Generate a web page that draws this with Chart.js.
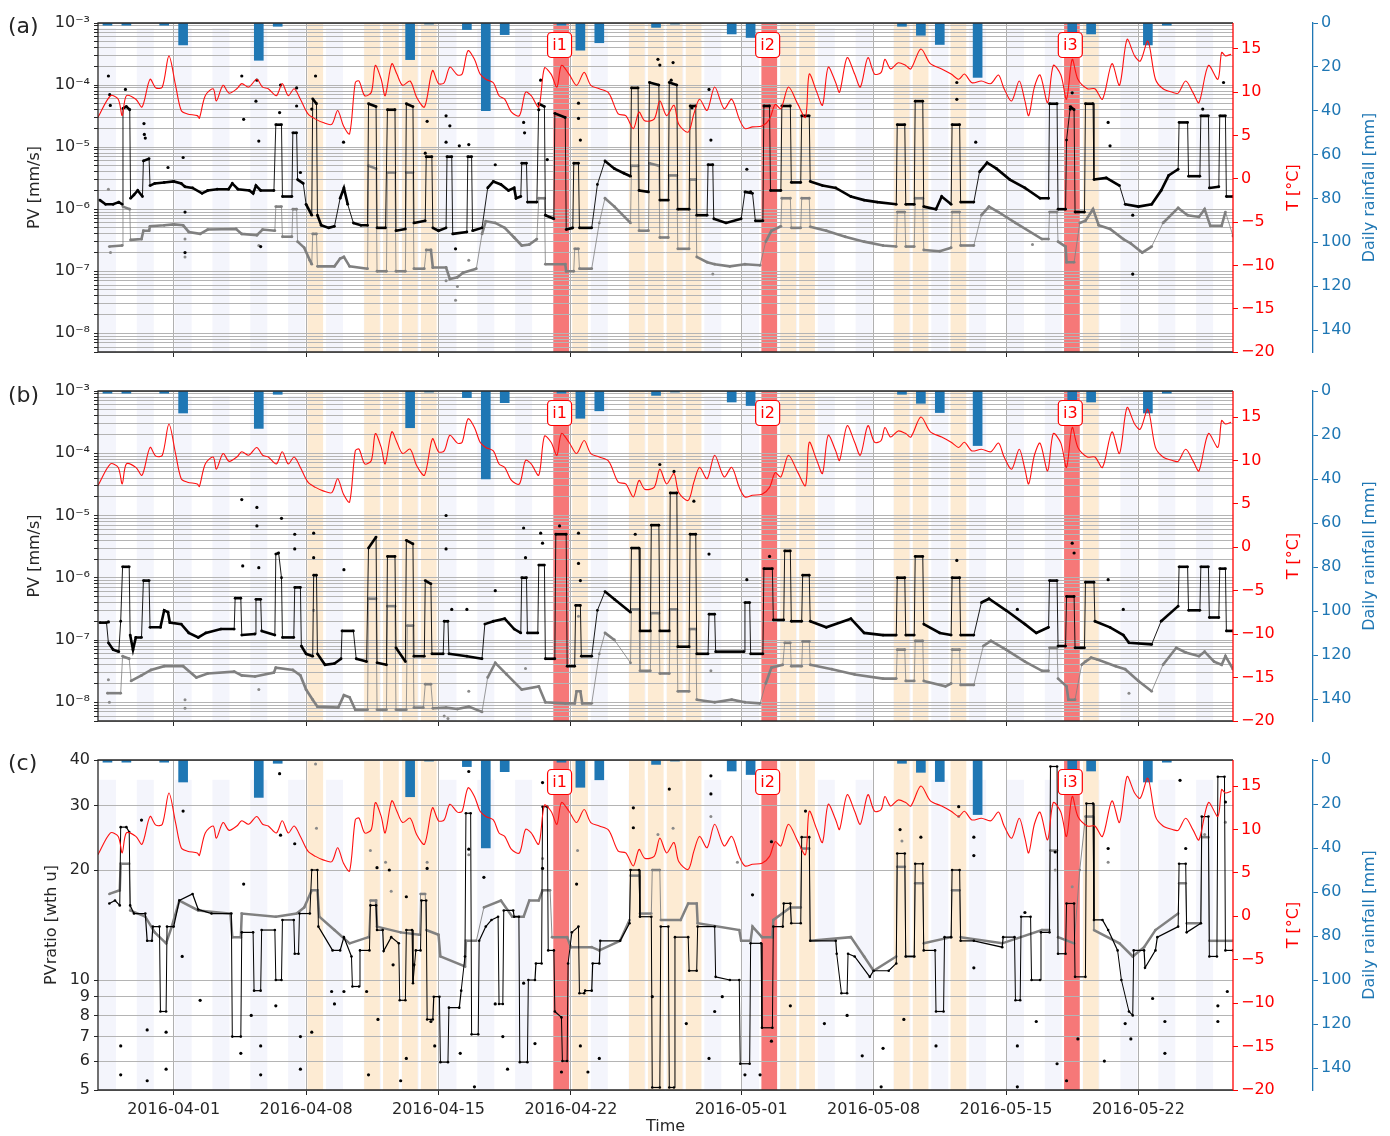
<!DOCTYPE html>
<html>
<head>
<meta charset="utf-8">
<script src="https://cdn.jsdelivr.net/npm/chart.js@4.4.1/dist/chart.umd.min.js"></script>
<style>
  body { margin: 0; background: #fff; width: 1390px; height: 1136px; overflow: hidden; position: relative; }
  canvas { position: absolute; left: 0; }
</style>
</head>
<body>
<canvas id="pa" width="1390" height="370" style="top:0px"></canvas>
<canvas id="pb" width="1390" height="370" style="top:370px"></canvas>
<canvas id="pc" width="1390" height="396" style="top:740px"></canvas>
<script>
// days counted from 2016-03-28 00:00
const tickDays = [4, 11, 18, 25, 34, 41, 48, 55];
const tickLabels = ['2016-04-01', '2016-04-08', '2016-04-15', '2016-04-22', '2016-05-01', '2016-05-08', '2016-05-15', '2016-05-22'];

const rainDays = [0, 1, 3, 4, 8, 9, 16, 17, 19, 20, 21, 24, 25, 26, 29, 30, 33, 34, 42, 43, 44, 46, 51, 52, 55, 56];
const rainMm = [1, 1, 1, 10, 17, 1.5, 16.7, 0.5, 3, 40, 5.3, 1, 12.4, 9, 2, 0.5, 5, 6.6, 1.5, 5.6, 9.8, 24.8, 4, 5, 10, 1];

const stripeDays = [0, 2, 4, 6, 8, 10, 12, 14, 16, 18, 20, 22, 24, 26, 28, 30, 32, 34, 36, 38, 40, 42, 44, 46, 48, 50, 52, 54, 56, 58];
const heatDays = [11, 14, 15, 16, 17, 25, 28, 29, 30, 31, 36, 37, 42, 43, 45, 52];
const eventDays = [24, 35, 51];
const eventLabels = ['i1', 'i2', 'i3'];

const tempTicks = [-20, -15, -10, -5, 0, 5, 10, 15];
const rainTicks = [0, 20, 40, 60, 80, 100, 120, 140];
const yTicksC = [5, 6, 7, 8, 9, 10, 20, 30, 40];
const decadesAB = [-9, -8, -7, -6, -5, -4, -3];
const mantissas = [1, 2, 3, 4, 5, 6, 7, 8, 9];

// air temperature [°C]
const temperature = [[0,7.1],[0.66,9.6],[1.07,9.2],[1.28,7.3],[1.5,9.6],[2.0,9.2],[2.33,8.3],[2.75,11.5],[3.06,10.5],[3.4,10.6],[3.75,14.2],[4.1,10.8],[4.4,7.9],[4.73,7.5],[5.25,7.3],[5.36,7.0],[5.67,9.6],[6.09,10.4],[6.26,9.0],[6.61,10.8],[6.93,9.9],[7.34,10.4],[7.6,11.0],[7.97,10.6],[8.39,11.5],[8.7,10.6],[9.0,10.4],[9.43,9.6],[9.74,11.0],[10.06,9.6],[10.37,10.4],[10.7,9.2],[11.1,7.5],[11.5,6.9],[11.9,6.5],[12.36,6.3],[12.67,7.9],[12.98,6.1],[13.3,5.2],[13.6,11.1],[13.8,11.3],[14.1,9.6],[14.45,10.0],[14.66,13.1],[14.97,11.5],[15.18,9.6],[15.53,13.3],[15.8,12.1],[16.1,10.8],[16.5,11.3],[16.85,9.4],[17.26,8.3],[17.68,12.5],[18.0,11.0],[18.3,11.1],[18.6,12.9],[19.0,12.0],[19.25,12.1],[19.56,14.8],[19.9,13.8],[20.2,12.1],[20.5,11.5],[20.9,11.1],[21.2,9.6],[21.5,9.2],[21.86,7.7],[22.28,7.3],[22.6,10.0],[22.9,9.6],[23.3,8.3],[23.6,12.8],[23.95,12.1],[24.26,10.6],[24.5,13.1],[24.9,12.1],[25.3,10.8],[25.7,12.3],[26.05,10.8],[26.5,10.4],[27.0,9.9],[27.5,7.5],[27.9,7.3],[28.3,5.8],[28.6,7.7],[28.9,6.7],[29.4,6.9],[29.7,9.0],[30.06,7.3],[30.45,8.5],[30.7,6.3],[31.2,5.4],[31.5,7.5],[31.8,9.2],[32.2,7.9],[32.6,10.6],[33.1,8.1],[33.5,9.2],[33.9,6.9],[34.2,5.8],[34.6,6.0],[35.1,6.1],[35.5,6.9],[35.8,8.6],[36.1,8.1],[36.5,10.6],[37.0,8.6],[37.4,7.1],[37.6,12.1],[38.0,10.0],[38.3,8.5],[38.6,12.9],[39.0,11.1],[39.2,10.0],[39.6,14.0],[40.0,12.1],[40.3,10.6],[40.7,14.0],[41.05,12.1],[41.4,12.3],[41.6,13.8],[41.9,12.7],[42.3,13.4],[42.7,13.1],[42.97,12.7],[43.5,15.0],[44.0,13.3],[44.6,12.7],[45.1,12.1],[45.5,11.5],[45.8,12.1],[46.2,11.1],[46.7,11.3],[47.2,11.0],[47.6,12.0],[47.9,10.4],[48.3,9.0],[48.7,11.3],[49.0,9.0],[49.2,7.3],[49.5,10.6],[49.8,12.0],[50.2,8.8],[50.5,13.1],[50.9,12.0],[51.2,9.2],[51.5,13.8],[51.8,11.5],[52.3,10.4],[52.7,10.4],[53.1,9.2],[53.6,13.3],[54.0,10.8],[54.4,16.1],[54.8,14.2],[55.1,13.6],[55.5,15.9],[55.9,11.5],[56.3,10.4],[56.8,10.0],[57.1,9.9],[57.5,11.3],[57.9,9.9],[58.2,8.8],[58.7,13.1],[59.2,11.5],[59.4,14.6],[59.6,14.2],[59.9,14.4]];

// panel (a) PV [mm/s]
const pvA_black = [[0.1,1.4e-6],[0.4,1.2e-6],[0.8,1.2e-6],[1.1,1.3e-6],[1.28,1.2e-6],[1.32,4.2e-5],[1.5,4.5e-5],[1.68,4e-5],[1.72,1.5e-6],[1.9,1.7e-6],[2.1,2e-6],[2.35,1.6e-6],[2.4,6e-6],[2.7,6.5e-6],[2.75,2.4e-6],[3.0,2.6e-6],[3.5,2.7e-6],[4.0,2.8e-6],[4.4,2.6e-6],[4.6,2.3e-6],[5.0,2.2e-6],[5.5,1.8e-6],[5.8,2e-6],[6.3,2.1e-6],[6.9,2.1e-6],[7.1,2.6e-6],[7.4,2.1e-6],[8.0,2e-6],[8.2,1.8e-6],[8.35,2.4e-6],[8.6,2e-6],[9.3,2e-6],[9.4,2.3e-5],[9.7,2.3e-5],[9.75,1.6e-6],[10.25,1.6e-6],[10.3,1.7e-5],[10.5,1.7e-5],[10.55,3e-6],[10.85,2.6e-6],[11.0,1.2e-6],[11.3,8e-7],[11.35,6e-5],[11.55,5e-5],[11.6,8e-7],[11.8,5.5e-7],[12.2,5e-7],[12.5,5.3e-7],[12.8,1.5e-6],[13.0,2.2e-6],[13.2,1.2e-6],[13.5,6e-7],[13.9,5.5e-7],[14.25,5.5e-7],[14.3,5e-5],[14.7,4.5e-5],[14.75,5e-7],[15.2,5e-7],[15.3,4e-5],[15.7,4e-5],[15.75,4.5e-7],[16.25,4.8e-7],[16.3,5e-5],[16.65,4.5e-5],[16.7,6e-7],[17.3,6.5e-7],[17.35,7e-6],[17.65,7e-6],[17.7,5e-7],[18.0,4.5e-7],[18.4,5e-7],[18.45,7e-6],[18.7,7e-6],[18.75,4e-7],[19.5,4.3e-7],[19.55,7e-6],[19.75,7e-6],[19.8,4.5e-7],[20.3,5e-7],[20.6,2.2e-6],[20.9,2.8e-6],[21.3,2.5e-6],[21.7,2e-6],[22.0,2.2e-6],[22.1,1.5e-6],[22.35,1.6e-6],[22.4,5.5e-6],[22.65,5.5e-6],[22.7,1.3e-6],[23.2,1.3e-6],[23.3,5e-5],[23.6,4.5e-5],[23.65,8e-7],[24.1,7e-7],[24.15,3.5e-5],[24.7,3e-5],[24.75,4.7e-7],[25.1,5e-7],[25.15,5.5e-6],[25.4,5.5e-6],[25.45,5e-7],[26.1,5e-7],[26.4,2.5e-6],[26.8,6e-6],[27.3,4.5e-6],[27.8,3.8e-6],[28.15,3.4e-6],[28.2,9e-5],[28.55,9e-5],[28.6,2e-6],[29.1,1.9e-6],[29.15,1.1e-4],[29.65,1e-4],[29.7,1.4e-6],[30.15,1.4e-6],[30.2,1.1e-4],[30.6,1e-4],[30.65,1e-6],[31.25,1e-6],[31.3,4.6e-5],[31.6,4.6e-5],[31.65,8e-7],[32.2,8e-7],[32.25,5.2e-6],[32.5,5.2e-6],[32.55,7e-7],[33.2,6e-7],[34.0,7e-7],[34.2,1.9e-6],[34.6,1.8e-6],[34.75,6.5e-7],[35.15,6.5e-7],[35.2,4.6e-5],[35.5,4.6e-5],[35.55,2e-6],[36.1,2e-6],[36.15,4.6e-5],[36.6,4.6e-5],[36.65,2.7e-6],[37.15,2.7e-6],[37.2,3.2e-5],[37.6,3.2e-5],[37.65,2.8e-6],[38.3,2.4e-6],[39.0,2.2e-6],[39.8,1.6e-6],[40.5,1.4e-6],[41.2,1.3e-6],[42.2,1.2e-6],[42.25,2.3e-5],[42.65,2.3e-5],[42.7,1.2e-6],[43.15,1.2e-6],[43.2,5.5e-5],[43.6,5.5e-5],[43.65,1.1e-6],[44.3,1e-6],[44.6,1.6e-6],[45.1,1.2e-6],[45.15,2.3e-5],[45.55,2.3e-5],[45.6,1.3e-6],[46.3,1.3e-6],[46.6,4e-6],[47.0,5.6e-6],[47.5,4.5e-6],[48.2,3e-6],[49.0,2.2e-6],[49.8,1.5e-6],[50.25,1.5e-6],[50.3,5e-5],[50.7,5e-5],[50.75,1e-6],[51.15,1e-6],[51.2,1.3e-5],[51.4,4.5e-5],[51.6,4e-5],[51.65,9e-7],[52.15,9e-7],[52.2,5e-5],[52.6,5e-5],[52.65,3e-6],[53.3,3.2e-6],[54.0,2.4e-6],[54.3,1.2e-6],[55.0,1.1e-6],[55.7,1.2e-6],[56.2,2e-6],[56.6,3.5e-6],[57.1,4.4e-6],[57.15,2.5e-5],[57.6,2.5e-5],[57.65,3.4e-6],[58.25,3.4e-6],[58.3,3.2e-5],[58.7,3.2e-5],[58.75,2.2e-6],[59.25,2.3e-6],[59.3,3.2e-5],[59.6,3.2e-5],[59.65,1.6e-6],[60,1.6e-6]];
const pvA_gray = [[0.6,2.5e-7],[1.28,2.6e-7],[1.32,1.1e-6],[1.68,1.0e-6],[1.72,3.2e-7],[2.3,3.3e-7],[2.4,4.5e-7],[2.7,4.5e-7],[2.75,5.3e-7],[3.5,5.5e-7],[4.0,5.7e-7],[4.5,5.5e-7],[4.8,4.3e-7],[5.4,4e-7],[5.8,4.7e-7],[7.3,4.8e-7],[7.6,4e-7],[8.4,3.8e-7],[8.7,4.7e-7],[9.35,4.5e-7],[9.4,1.1e-6],[9.7,1.1e-6],[9.75,3.6e-7],[10.25,3.6e-7],[10.3,1.0e-6],[10.5,1.0e-6],[10.55,3e-7],[10.9,2.4e-7],[11.2,1.5e-7],[11.3,1.3e-7],[11.35,4e-7],[11.55,4e-7],[11.6,1.2e-7],[12.5,1.2e-7],[12.8,1.6e-7],[13.0,1.7e-7],[13.3,1.2e-7],[14.25,1.1e-7],[14.3,5e-6],[14.7,4.5e-6],[14.75,1.0e-7],[15.25,1.0e-7],[15.3,3.9e-6],[15.7,3.9e-6],[15.75,1.0e-7],[16.25,1.0e-7],[16.3,3.9e-6],[16.65,3.9e-6],[16.7,1.1e-7],[17.25,1.1e-7],[17.35,2.2e-7],[17.6,2.2e-7],[17.7,1.15e-7],[18.4,1.15e-7],[18.6,7.5e-8],[19.0,8e-8],[19.3,9.5e-8],[20.0,1.1e-7],[20.3,4e-7],[20.5,6.4e-7],[21.0,6e-7],[21.5,5e-7],[22.0,3.5e-7],[22.4,2.6e-7],[22.8,2.7e-7],[23.2,3.3e-7],[23.3,1.5e-6],[23.6,1.5e-6],[23.65,1.3e-7],[24.7,1.3e-7],[24.75,1.0e-7],[25.15,1.0e-7],[25.2,2.3e-7],[25.4,2.3e-7],[25.45,1.1e-7],[26.1,1.1e-7],[26.5,6e-7],[26.8,1.5e-6],[27.3,1.1e-6],[28.15,6e-7],[28.2,5e-6],[28.55,5e-6],[28.6,4.5e-7],[29.1,4.5e-7],[29.15,5.5e-6],[29.65,5e-6],[29.7,3.5e-7],[30.15,3.5e-7],[30.2,3.5e-6],[30.6,3.5e-6],[30.65,2.3e-7],[31.25,2.3e-7],[31.3,3e-6],[31.6,3e-6],[31.65,1.7e-7],[32.2,1.4e-7],[32.6,1.3e-7],[33.4,1.2e-7],[34.2,1.3e-7],[35.0,1.25e-7],[35.3,3e-7],[35.6,4.5e-7],[36.1,5.3e-7],[36.15,1.5e-6],[36.6,1.5e-6],[36.65,5e-7],[37.15,5e-7],[37.2,1.5e-6],[37.6,1.5e-6],[37.65,5.2e-7],[38.5,4.5e-7],[39.5,3.6e-7],[40.5,3e-7],[41.5,2.6e-7],[42.2,2.5e-7],[42.25,9e-7],[42.65,9e-7],[42.7,2.5e-7],[43.15,2.5e-7],[43.2,1.5e-6],[43.6,1.5e-6],[43.65,2.2e-7],[44.5,2.1e-7],[45.1,2.4e-7],[45.15,9e-7],[45.55,9e-7],[45.6,2.6e-7],[46.3,2.6e-7],[46.7,8e-7],[47.1,1.1e-6],[47.6,9e-7],[48.5,6e-7],[49.9,3.3e-7],[50.25,3.3e-7],[50.3,9e-7],[50.7,9e-7],[50.75,3e-7],[51.15,2.5e-7],[51.2,1.4e-7],[51.6,1.4e-7],[51.9,6e-7],[52.2,6.5e-7],[52.6,1e-6],[52.9,5.5e-7],[53.5,4.8e-7],[54.2,3.3e-7],[54.6,2.8e-7],[55.2,2e-7],[55.7,2.5e-7],[56.3,6e-7],[57.1,1.05e-6],[57.6,8e-7],[58.2,7.5e-7],[58.5,1e-6],[58.8,5.4e-7],[59.4,5.4e-7],[59.6,9e-7],[60,3.7e-7]];
const outA_black = [[0.55,1.4e-4],[0.62,7e-5],[0.65,4.7e-5],[1.45,8.5e-5],[2.43,2.4e-5],[2.45,1.6e-5],[2.5,1.4e-5],[3.7,4.7e-6],[4.5,6.8e-6],[4.6,9e-7],[4.6,2e-7],[7.6,1.4e-4],[7.7,2.8e-5],[8.35,5.5e-5],[8.4,1.2e-4],[8.5,1.25e-5],[8.6,2.5e-7],[9.6,3.6e-5],[9.65,1e-4],[10.5,9e-5],[10.5,4.6e-5],[10.7,3.9e-6],[11.3,4.1e-5],[11.5,1.4e-4],[12.98,1.2e-5],[17.3,8e-6],[17.4,2.6e-5],[18.4,3.2e-5],[18.4,1.2e-5],[18.6,2.2e-5],[18.9,2.3e-7],[19.1,1.05e-5],[19.6,1.1e-5],[21.0,5.2e-6],[22.5,2.5e-5],[22.55,1.7e-5],[23.3,4e-5],[23.4,1.2e-4],[23.75,6.3e-6],[25.4,5.1e-5],[25.4,2.9e-5],[25.5,1.3e-5],[29.6,2.6e-4],[29.7,2.1e-4],[30.3,1.2e-4],[30.4,2.3e-4],[31.4,4.3e-5],[32.3,8.5e-5],[32.4,1.3e-5],[34.3,4.4e-6],[34.5,1.9e-6],[45.4,1.1e-4],[45.4,5.9e-5],[46.4,1.2e-5],[51.4,4.1e-5],[51.5,7.5e-5],[53.4,2.5e-5],[53.5,1.05e-5],[54.7,8e-7],[54.7,9e-8],[58.4,4.1e-5],[59.5,1.1e-4]];
const outA_gray = [[0.55,2.1e-6],[0.66,2e-7],[4.6,3.3e-7],[4.6,1.7e-7],[8.5,2.6e-7],[18.4,7e-8],[18.9,3.4e-8],[19.0,5.7e-8],[19.6,1.5e-7],[32.5,9e-8],[49.4,2.7e-7],[54.7,9e-8]];

// panel (b) PV [mm/s]
const pvB_black = [[0.1,1.9e-7],[0.45,1.9e-7],[0.55,9e-8],[0.8,7e-8],[1.1,6.5e-8],[1.2,2e-7],[1.3,1.5e-6],[1.65,1.5e-6],[1.7,1.2e-7],[1.85,7e-8],[2.0,1.1e-7],[2.3,1.1e-7],[2.4,9e-7],[2.7,9e-7],[2.75,1.6e-7],[3.3,1.6e-7],[3.5,3e-7],[3.7,2.8e-7],[3.8,1.9e-7],[4.4,1.8e-7],[4.8,1.3e-7],[5.3,1.1e-7],[5.7,1.3e-7],[6.5,1.5e-7],[7.2,1.5e-7],[7.25,4.7e-7],[7.55,4.7e-7],[7.6,1.2e-7],[8.3,1.25e-7],[8.35,4.5e-7],[8.6,4.5e-7],[8.65,1.4e-7],[9.35,1.2e-7],[9.4,2.4e-6],[9.55,2.5e-6],[9.7,1e-6],[9.75,1.1e-7],[10.35,1.1e-7],[10.4,7e-7],[10.7,7e-7],[10.75,8e-8],[11.0,6e-8],[11.35,5.5e-8],[11.4,1.1e-6],[11.55,1.1e-6],[11.6,6e-8],[12.0,4e-8],[12.5,4.2e-8],[12.85,5e-8],[12.9,1.4e-7],[13.5,1.4e-7],[13.65,5e-8],[14.2,4.5e-8],[14.3,3e-6],[14.7,4.5e-6],[14.75,4.3e-8],[15.25,4e-8],[15.3,2.2e-6],[15.7,2.2e-6],[15.75,7.5e-8],[16.25,4.5e-8],[16.3,4e-6],[16.65,3.5e-6],[16.7,5.5e-8],[17.25,5.5e-8],[17.3,9e-7],[17.6,8e-7],[17.65,6e-8],[18.25,6e-8],[18.3,2e-7],[18.5,2e-7],[18.55,6e-8],[19.5,5.5e-8],[20.3,5e-8],[20.45,1.8e-7],[20.9,2e-7],[21.5,2.2e-7],[22.0,1.5e-7],[22.35,1.3e-7],[22.4,1e-6],[22.65,1e-6],[22.7,1.3e-7],[23.25,1.3e-7],[23.3,1.6e-6],[23.6,1.6e-6],[23.65,5e-8],[24.15,5e-8],[24.2,5e-6],[24.75,5e-6],[24.8,3.8e-8],[25.2,3.8e-8],[25.25,3.6e-7],[25.5,3.6e-7],[25.55,5.5e-8],[26.1,5.5e-8],[26.4,3e-7],[26.8,6e-7],[27.3,4.5e-7],[28.15,2.8e-7],[28.2,3e-6],[28.6,3e-6],[28.65,1.4e-7],[29.2,1.4e-7],[29.25,7e-6],[29.65,7e-6],[29.7,1.4e-7],[30.2,1.4e-7],[30.25,2.3e-5],[30.6,2.3e-5],[30.65,7.8e-8],[31.25,7.8e-8],[31.3,5e-6],[31.6,5e-6],[31.65,6e-8],[32.25,6e-8],[32.3,2.6e-7],[32.6,2.6e-7],[32.65,6.5e-8],[34.15,6.5e-8],[34.2,4e-7],[34.45,4e-7],[34.5,6e-8],[35.15,6e-8],[35.2,1.4e-6],[35.65,1.4e-6],[35.7,2.1e-7],[36.25,2.1e-7],[36.3,2.7e-6],[36.6,2.7e-6],[36.65,2e-7],[37.2,2e-7],[37.25,1.1e-6],[37.6,1.1e-6],[37.65,2e-7],[38.5,1.6e-7],[39.8,2.2e-7],[40.5,1.3e-7],[41.5,1.2e-7],[42.2,1.2e-7],[42.25,1e-6],[42.65,1e-6],[42.7,1.2e-7],[43.15,1.2e-7],[43.2,2.2e-6],[43.6,2.2e-6],[43.65,1.8e-7],[44.5,1.3e-7],[45.1,1.2e-7],[45.15,1e-6],[45.55,1e-6],[45.6,1.2e-7],[46.3,1.2e-7],[46.7,4e-7],[47.1,4.6e-7],[48.0,3e-7],[49.0,1.8e-7],[49.6,1.3e-7],[50.25,1.6e-7],[50.3,9e-7],[50.7,9e-7],[50.75,8e-8],[51.15,8e-8],[51.2,5e-7],[51.6,5e-7],[51.65,7.5e-8],[52.15,7.5e-8],[52.2,8.5e-7],[52.65,8.5e-7],[52.7,2e-7],[53.5,1.6e-7],[54.2,1.2e-7],[54.5,9e-8],[55.7,8.5e-8],[56.2,2e-7],[57.1,3.5e-7],[57.15,1.5e-6],[57.6,1.5e-6],[57.65,3e-7],[58.25,3e-7],[58.3,1.5e-6],[58.7,1.5e-6],[58.75,2.3e-7],[59.25,2.3e-7],[59.3,1.4e-6],[59.6,1.4e-6],[59.65,1.4e-7],[60,1.4e-7]];
const pvB_gray = [[0.5,1.4e-8],[1.2,1.4e-8],[1.3,5.5e-8],[1.65,5e-8],[1.75,2.2e-8],[2.3,2.7e-8],[2.8,3.3e-8],[3.5,3.8e-8],[4.5,3.8e-8],[5.2,2.5e-8],[5.8,2.9e-8],[7.2,3.1e-8],[7.6,2.7e-8],[8.3,2.6e-8],[9.3,3e-8],[9.4,3.6e-8],[10.3,3.3e-8],[10.7,2.7e-8],[11.0,1.6e-8],[11.35,1.1e-8],[11.6,8.5e-9],[12.7,8.2e-9],[13.0,1.3e-8],[13.3,1.2e-8],[13.6,7.6e-9],[14.25,7.6e-9],[14.3,4.6e-7],[14.7,4.6e-7],[14.75,7.6e-9],[15.25,7.6e-9],[15.3,3.5e-7],[15.7,3.5e-7],[15.75,7.6e-9],[16.3,7.6e-9],[16.35,1.7e-7],[16.65,1.7e-7],[16.7,8.2e-9],[17.2,8.2e-9],[17.3,1.95e-8],[17.6,1.95e-8],[17.7,8e-9],[18.4,8.2e-9],[19.0,7.8e-9],[19.6,8.5e-9],[20.3,7e-9],[20.6,2.5e-8],[21.0,4.3e-8],[21.6,2.8e-8],[22.4,1.6e-8],[23.3,1.8e-8],[23.65,1e-8],[24.7,9.6e-9],[25.2,9.6e-9],[25.3,1.5e-8],[25.5,1.5e-8],[25.6,9.6e-9],[26.1,9.6e-9],[26.5,6e-8],[26.8,1.3e-7],[27.3,1e-7],[28.15,4.3e-8],[28.2,3.1e-7],[28.6,3.1e-7],[28.65,3.2e-8],[29.2,3.2e-8],[29.25,2.7e-7],[29.65,2.7e-7],[29.7,2.9e-8],[30.2,2.9e-8],[30.25,3.1e-7],[30.6,3.1e-7],[30.65,1.5e-8],[31.25,1.5e-8],[31.3,1.5e-7],[31.6,1.5e-7],[31.65,1.1e-8],[32.6,1e-8],[33.5,1.1e-8],[34.2,1e-8],[35.0,9.6e-9],[35.3,2e-8],[35.6,3.6e-8],[36.2,4e-8],[36.3,9e-8],[36.6,9e-8],[36.65,3.8e-8],[37.2,3.8e-8],[37.25,9.5e-8],[37.6,9.5e-8],[37.65,4e-8],[38.8,3.4e-8],[40.0,2.8e-8],[41.5,2.4e-8],[42.2,2.4e-8],[42.25,7e-8],[42.65,7e-8],[42.7,2.2e-8],[43.15,2.2e-8],[43.2,9.7e-8],[43.6,9.7e-8],[43.65,2.2e-8],[44.8,1.8e-8],[45.1,2e-8],[45.15,7e-8],[45.55,7e-8],[45.6,1.9e-8],[46.3,1.9e-8],[46.8,8e-8],[47.2,9.7e-8],[48.0,7e-8],[49.0,4.5e-8],[49.9,3.2e-8],[50.25,3.2e-8],[50.3,7.5e-8],[50.7,7.5e-8],[50.75,2.4e-8],[51.2,1.8e-8],[51.3,1.1e-8],[51.65,1.1e-8],[52.0,4e-8],[52.2,4.5e-8],[52.5,5.2e-8],[52.8,4.9e-8],[53.8,3.8e-8],[54.3,3.4e-8],[55.0,2.2e-8],[55.7,1.5e-8],[56.3,4e-8],[57.0,7.5e-8],[57.5,6.3e-8],[58.2,5.5e-8],[58.5,6.5e-8],[59.0,4.5e-8],[59.4,4e-8],[59.6,5.5e-8],[60,3.4e-8]];
const outB_black = [[0.55,1.95e-7],[7.6,1.8e-5],[7.65,1.55e-6],[8.4,1.35e-5],[8.4,6.8e-6],[8.5,1.45e-6],[9.7,9e-6],[10.4,5e-6],[10.4,2.9e-6],[11.4,5.2e-6],[11.4,2.1e-6],[13.0,1.35e-6],[18.4,1e-5],[18.4,2.9e-6],[18.7,3.1e-7],[19.5,3.1e-7],[21.0,6.2e-7],[22.5,6.3e-6],[22.6,2.1e-6],[23.4,5.2e-6],[23.5,3.6e-6],[24.4,6.8e-6],[25.4,5.2e-6],[25.4,1.7e-6],[25.5,9e-7],[28.4,5e-6],[29.7,6.6e-5],[30.45,5.1e-5],[31.5,1.7e-5],[32.3,2.4e-6],[34.3,9.3e-7],[35.5,2.2e-6],[45.4,1.9e-6],[48.6,3.1e-7],[51.5,3.6e-6],[51.6,2.5e-6],[53.4,9.3e-7],[54.2,3.1e-7]];
const outB_gray = [[0.55,2.3e-8],[0.6,1e-8],[4.6,8e-9],[4.6,1.1e-8],[8.5,1.6e-8],[11.4,3e-7],[18.3,6e-9],[18.5,5.5e-9],[19.6,1.5e-8],[22.6,3.5e-8],[25.4,2.4e-7],[32.4,3.2e-8],[54.5,1.4e-8]];

// panel (c) PVratio [wth u]
const pvC_black = [[0.6,16.2],[0.9,16.5],[1.15,16.0],[1.2,26.2],[1.5,26.2],[1.65,25.4],[1.7,16.0],[1.9,15.2],[2.5,15.2],[2.6,12.8],[2.85,12.8],[2.9,14.0],[3.25,14.0],[3.3,8.2],[3.6,8.2],[3.65,14.0],[4.0,14.0],[4.3,16.5],[5.0,17.2],[5.3,15.6],[6.0,15.2],[7.05,15.2],[7.1,7.0],[7.55,7.0],[7.6,13.5],[8.2,13.5],[8.25,9.35],[8.6,9.35],[8.65,13.7],[9.35,13.7],[9.4,10.0],[9.7,10.0],[9.75,14.6],[10.35,14.6],[10.4,11.8],[10.6,11.8],[10.65,15.2],[11.2,15.2],[11.3,20.0],[11.6,20.0],[11.65,14.0],[12.4,12.05],[12.8,12.05],[13.0,13.1],[13.4,11.6],[13.45,9.6],[13.8,9.6],[13.85,12.05],[14.35,12.05],[14.4,16.0],[14.7,16.0],[14.75,13.7],[15.05,13.7],[15.1,12.0],[15.5,13.1],[15.9,12.6],[15.95,8.8],[16.25,8.8],[16.3,13.7],[16.6,13.7],[16.65,9.8],[16.8,12.05],[17.05,12.05],[17.1,16.5],[17.35,16.5],[17.4,7.8],[17.7,7.8],[17.75,9.0],[18.05,9.0],[18.1,5.96],[18.5,5.96],[18.55,8.4],[19.1,8.4],[19.2,9.35],[19.4,11.6],[19.45,28.6],[19.7,28.6],[19.75,7.1],[20.1,7.1],[20.15,12.8],[20.5,14.0],[20.8,14.6],[21.15,14.9],[21.2,8.6],[21.4,8.6],[21.45,15.5],[21.95,15.5],[22.0,14.9],[22.25,14.9],[22.3,5.96],[22.7,5.96],[22.75,10.0],[23.1,10.0],[23.15,11.1],[23.45,11.1],[23.5,29.8],[23.75,29.8],[23.8,12.05],[24.1,12.05],[24.15,8.2],[24.5,7.9],[24.55,6.0],[24.8,6.0],[24.85,11.1],[25.05,13.5],[25.4,14.0],[25.45,9.2],[25.7,9.2],[25.75,9.35],[26.1,9.35],[26.15,11.1],[26.5,11.1],[26.55,12.8],[27.6,12.8],[28.1,14.3],[28.15,20.0],[28.6,20.0],[28.65,14.9],[29.25,14.9],[29.3,5.08],[29.7,5.08],[29.75,14.0],[30.15,14.0],[30.2,5.08],[30.45,5.08],[30.5,13.1],[31.2,13.1],[31.25,10.6],[31.65,10.6],[31.7,14.0],[32.6,14.0],[32.65,10.2],[33.4,10.0],[33.9,10.0],[33.95,5.9],[34.45,5.9],[34.5,12.6],[35.05,12.6],[35.1,7.4],[35.65,7.4],[35.7,14.0],[36.2,14.0],[36.25,16.2],[36.6,16.2],[36.65,14.3],[37.15,14.3],[37.2,24.6],[37.6,24.6],[37.65,12.8],[39.0,12.8],[39.05,11.8],[39.3,9.2],[39.6,9.2],[39.65,11.8],[40.0,11.6],[40.8,10.2],[41.0,10.6],[41.8,10.6],[42.2,11.1],[42.25,22.2],[42.65,22.2],[42.7,11.6],[43.15,11.6],[43.2,20.8],[43.6,20.8],[43.65,12.05],[44.25,12.05],[44.3,8.2],[44.7,8.2],[44.75,13.1],[45.1,13.1],[45.15,20.0],[45.55,20.0],[45.6,12.8],[46.3,12.8],[47.8,12.3],[47.85,13.1],[48.45,13.1],[48.5,8.8],[48.75,8.8],[48.8,14.9],[49.3,14.9],[49.35,10.0],[49.8,10.0],[49.85,13.5],[50.3,13.5],[50.35,38.4],[50.7,38.4],[50.75,11.8],[51.15,11.8],[51.2,16.2],[51.6,16.2],[51.65,10.2],[52.2,10.2],[52.25,30.4],[52.6,30.4],[52.65,14.6],[53.1,14.6],[53.4,13.7],[53.9,12.05],[54.1,10.0],[54.5,8.2],[54.7,8.0],[54.75,12.05],[55.3,12.05],[55.35,10.8],[55.9,12.05],[56.0,13.1],[57.1,14.0],[57.15,20.8],[57.5,20.8],[57.55,13.5],[58.3,14.3],[58.35,28.0],[58.7,28.0],[58.75,11.6],[59.15,11.6],[59.2,36.0],[59.55,36.0],[59.6,12.05],[60,12.05]];
const pvC_gray = [[0.6,17.2],[1.15,17.6],[1.2,20.8],[1.65,20.8],[1.7,15.5],[2.5,14.9],[3.0,13.5],[3.6,12.6],[3.9,14.0],[4.3,16.5],[5.3,15.5],[7.0,15.2],[7.1,13.1],[7.55,13.1],[7.6,15.2],[9.4,14.9],[10.5,15.2],[10.9,15.8],[11.3,17.6],[11.6,17.6],[11.7,14.9],[12.5,13.7],[13.3,12.6],[14.3,13.1],[14.4,16.5],[14.7,16.5],[14.75,14.0],[16.0,13.5],[17.0,13.3],[17.05,17.2],[17.3,17.2],[17.35,13.7],[18.0,13.3],[18.1,11.6],[19.4,10.9],[19.45,12.8],[20.0,12.8],[20.4,15.8],[21.3,16.5],[21.9,14.9],[22.5,14.9],[22.8,16.5],[23.3,16.5],[23.5,17.6],[23.9,17.6],[24.0,13.1],[24.8,13.1],[25.0,12.3],[26.1,12.3],[26.5,12.05],[27.6,12.8],[28.1,14.6],[28.15,19.3],[28.6,19.3],[28.65,15.2],[29.25,15.2],[29.3,20.0],[29.7,20.0],[29.75,14.6],[30.8,14.6],[31.2,16.2],[31.65,16.2],[31.7,14.3],[33.9,13.7],[34.0,12.8],[34.5,12.8],[34.6,14.0],[35.1,13.1],[35.65,13.1],[35.7,14.6],[36.6,15.8],[37.15,15.8],[37.2,22.9],[37.6,22.9],[37.65,12.8],[39.8,13.1],[40.5,11.6],[41.0,10.6],[42.2,11.6],[42.25,20.4],[42.65,20.4],[42.7,11.6],[43.15,11.6],[43.2,18.4],[43.6,18.4],[43.65,12.6],[45.1,13.1],[45.15,17.6],[45.55,17.6],[45.6,13.1],[47.8,12.6],[49.9,13.7],[50.3,13.7],[50.35,22.6],[50.7,22.6],[50.75,13.1],[51.6,12.6],[51.9,20.0],[52.2,28.0],[52.6,28.0],[52.65,13.7],[54.0,12.6],[54.7,11.6],[55.3,12.3],[55.9,13.7],[57.1,15.2],[57.15,18.4],[57.5,18.4],[57.55,14.3],[58.3,14.3],[58.35,24.6],[58.7,24.6],[58.75,12.8],[60,12.8]];
const outC_black = [[1.2,6.6],[1.2,5.5],[2.3,27.4],[2.6,7.3],[2.6,5.3],[3.6,7.2],[3.6,5.7],[4.45,11.6],[4.5,29],[5.4,8.8],[7.7,18.3],[7.55,6.3],[8.1,8],[8.6,6.6],[8.6,5.5],[9.6,36.7],[9.65,24.9],[9.4,8.5],[10.4,23.6],[10.7,7],[10.7,5.7],[11.3,7.2],[12.35,9.3],[12.5,8.6],[13.0,9.3],[14.2,9.3],[14.3,5.5],[14.75,20.3],[14.8,7.8],[15.4,20],[15.6,11],[16.0,5.3],[16.3,16.9],[16.3,6.1],[16.7,11],[17.4,20.2],[17.6,7.7],[17.8,6.6],[19.6,37.2],[19.6,22.8],[19.15,6.3],[19.9,5.1],[20.4,19.1],[21.0,8.6],[21.4,7],[21.65,5.7],[22.5,9.8],[23.1,6.7],[23.5,34.7],[23.5,20.2],[24.5,5.6],[25.3,18.3],[25.5,6.6],[25.9,5.6],[26.5,6.1],[28.3,29.6],[28.3,26.1],[30.2,33.3],[29.3,9.0],[31.1,7.6],[32.4,36.2],[32.4,32.3],[32.3,6.1],[32.6,8.2],[33.0,9.0],[34.2,5.5],[34.6,17.1],[35.0,5.5],[35.6,23.9],[35.6,6.8],[37.4,29],[36.6,8.5],[38.4,7.6],[39.6,8.0],[40.4,6.2],[41.5,6.5],[41.4,5.1],[42.4,25.8],[42.6,7.8],[43.5,24.6],[44.3,6.6],[45.5,29.8],[46.3,24.6],[46.3,21.9],[46.3,10.8],[48.6,6.6],[48.6,5.1],[49.0,15.3],[49.6,7.7],[50.6,22.4],[50.7,5.9],[51.2,5.3],[51.8,6.9],[53.2,6.0],[53.4,22.9],[54.3,7.6],[54.6,6.9],[55.75,8.9],[56.4,7.7],[56.4,6.3],[57.2,35.2],[57.5,22.9],[59.2,8.5],[59.2,7.7],[59.6,30.7],[59.7,9.3]];
const outC_gray = [[11.5,39],[11.55,26],[14.4,22.6],[15.2,21],[15.5,17.5],[17.4,21],[19.6,22],[23.5,21.5],[25.35,22.6],[29.6,25],[30.4,26],[32.4,28],[33.8,21],[35.6,24],[42.5,24],[45.5,28],[50.6,20],[51.5,18],[53.4,21],[58.5,25],[59.6,27]];

Chart.defaults.font.family = "'DejaVu Sans', sans-serif";
Chart.defaults.font.size = 16;

const SUP = {'-': '⁻', '0': '⁰', '1': '¹', '2': '²', '3': '³', '4': '⁴', '5': '⁵', '6': '⁶', '7': '⁷', '8': '⁸', '9': '⁹'};
const isPow10 = v => Math.abs(Math.log10(v) - Math.round(Math.log10(v))) < 1e-6;
const powLabel = v => isPow10(v) ? '10' + String(Math.round(Math.log10(v))).split('').map(c => SUP[c]).join('') : '';

// grid positions of the log axis in panels (a) and (b)
const yTicksAB = [];
decadesAB.forEach(e => mantissas.forEach(m => {
  const v = m * Math.pow(10, e);
  if (v >= 4.99e-9 && v <= 1.0001e-3) yTicksAB.push(v);
}));

const toXY = arr => arr.map(p => ({x: p[0], y: p[1]}));
const segW = (thr, flat, steep) => c => Math.abs(Math.log10(c.p1.parsed.y / c.p0.parsed.y)) > thr ? steep : flat;

function decor(o) {
  return {
    id: 'decor',
    beforeDraw(chart) {
      const {ctx, chartArea: a, scales: {x}} = chart;
      const h = a.bottom - a.top;
      const stripeTop = a.top + h * (1 - o.stripeFrac);
      ctx.save();
      ctx.fillStyle = '#f4f5fc';
      stripeDays.forEach(d => {
        const x0 = x.getPixelForValue(d + 0.05), x1 = x.getPixelForValue(d + 0.95);
        ctx.fillRect(x0, stripeTop, x1 - x0, a.bottom - stripeTop);
      });
      ctx.fillStyle = '#fdebd3';
      heatDays.forEach(d => {
        const x0 = x.getPixelForValue(d + 0.07), x1 = x.getPixelForValue(d + 0.9);
        ctx.fillRect(x0, a.top, x1 - x0, h);
      });
      ctx.fillStyle = '#f67878';
      eventDays.forEach(d => {
        const x0 = x.getPixelForValue(d + 0.07), x1 = x.getPixelForValue(d + 0.9);
        ctx.fillRect(x0, a.top, x1 - x0, h);
      });
      ctx.restore();
    },
    afterDraw(chart) {
      const {ctx, chartArea: a, scales: {x}} = chart;
      const mid = (a.top + a.bottom) / 2;
      ctx.save();
      // frame
      ctx.lineWidth = 1.3;
      ctx.strokeStyle = '#262626';
      ctx.beginPath();
      ctx.moveTo(a.right, a.top); ctx.lineTo(a.left, a.top); ctx.lineTo(a.left, a.bottom); ctx.lineTo(a.right, a.bottom);
      ctx.stroke();
      ctx.strokeStyle = '#ff0000';
      ctx.beginPath(); ctx.moveTo(a.right, a.top); ctx.lineTo(a.right, a.bottom); ctx.stroke();
      // event labels
      ctx.font = "16px 'DejaVu Sans'";
      ctx.textAlign = 'center';
      ctx.textBaseline = 'middle';
      eventDays.forEach((d, i) => {
        const cx = x.getPixelForValue(d + 0.4), cy = a.top + 22;
        ctx.beginPath();
        ctx.roundRect(cx - 12, cy - 12.5, 24, 25, 4);
        ctx.fillStyle = '#ffffff'; ctx.fill();
        ctx.lineWidth = 1.2; ctx.strokeStyle = '#ff0000'; ctx.stroke();
        ctx.fillStyle = '#ff0000';
        ctx.fillText(eventLabels[i], cx, cy + 1);
      });
      // panel letter
      ctx.fillStyle = '#262626';
      ctx.textAlign = 'left';
      ctx.font = "22px 'DejaVu Sans'";
      ctx.fillText(o.letter, 8, o.letterY);
      // axis titles
      ctx.font = "16px 'DejaVu Sans'";
      ctx.textAlign = 'center';
      const vtext = (txt, px, color) => {
        ctx.save(); ctx.translate(px, mid); ctx.rotate(-Math.PI / 2);
        ctx.fillStyle = color; ctx.fillText(txt, 0, 0); ctx.restore();
      };
      vtext(o.yTitle, o.yTitleX, '#262626');
      vtext('T [°C]', 1294, '#ff0000');
      vtext('Daily rainfall [mm]', 1370, '#1f77b4');
      ctx.restore();
    }
  };
}

function buildPanel(id, o) {
  return new Chart(document.getElementById(id), {
    type: 'line',
    data: {
      datasets: [
        { type: 'line', data: toXY(temperature), yAxisID: 'T', borderColor: '#ff1010', borderWidth: 1.1,
          pointRadius: 0, tension: 0.3, order: 0 },
        { type: 'line', data: toXY(o.outBlack), yAxisID: 'y', showLine: false, pointRadius: 1.6,
          pointBackgroundColor: '#000', pointBorderWidth: 0, order: 1 },
        { type: 'line', data: toXY(o.black), yAxisID: 'y', borderColor: '#000', pointRadius: o.pr,
          pointBackgroundColor: '#000', pointBorderWidth: 0,
          segment: { borderWidth: segW(o.thr, o.blackFlat, o.blackSteep) }, order: 2 },
        { type: 'line', data: toXY(o.outGray), yAxisID: 'y', showLine: false, pointRadius: 1.5,
          pointBackgroundColor: '#8a8a8a', pointBorderWidth: 0, order: 3 },
        { type: 'line', data: toXY(o.gray), yAxisID: 'y', borderColor: '#808080', pointRadius: o.pr,
          pointBackgroundColor: '#808080', pointBorderWidth: 0,
          segment: { borderWidth: segW(o.thr, o.grayFlat, o.graySteep) }, order: 4 },
        { type: 'bar', data: rainDays.map((d, i) => ({x: d + 0.5, y: rainMm[i]})), yAxisID: 'rain',
          backgroundColor: '#1f77b4', barThickness: 9, grouped: false, order: 5 }
      ]
    },
    options: {
      responsive: false,
      animation: false,
      events: [],
      layout: { padding: { top: o.padTop, left: 0, right: 0, bottom: 0 } },
      plugins: { legend: { display: false }, tooltip: { enabled: false } },
      scales: {
        x: {
          type: 'linear', min: 0, max: 60, offset: false,
          afterBuildTicks: s => { s.ticks = tickDays.map(v => ({value: v})); },
          afterFit: s => { s.height = o.xHeight; },
          ticks: { display: o.showDates, autoSkip: false, maxRotation: 0, color: '#262626', padding: 5,
                   callback: v => tickLabels[tickDays.indexOf(v)] },
          grid: { offset: false, color: '#b0b0b0', lineWidth: 1, tickLength: 5, tickColor: '#262626' },
          border: { display: false },
          title: { display: o.showDates, text: 'Time', color: '#262626', padding: { top: 1, bottom: 0 } }
        },
        y: {
          type: 'logarithmic', position: 'left', min: o.yMin, max: o.yMax,
          afterBuildTicks: s => { s.ticks = o.yTicks.map(v => ({value: v})); },
          afterFit: s => { s.width = 98; },
          ticks: { autoSkip: false, color: '#262626', padding: 4, callback: o.yLabel },
          grid: { color: '#b4b4b4', lineWidth: 1, tickLength: 4, tickColor: '#262626' },
          border: { display: false }
        },
        T: {
          type: 'linear', position: 'right', weight: 0, min: -20, max: 18,
          afterBuildTicks: s => { s.ticks = tempTicks.map(v => ({value: v})); },
          afterFit: s => { s.width = 80; },
          ticks: { color: '#ff0000', padding: 3, callback: v => String(v).replace('-', '−') },
          grid: { drawOnChartArea: false, tickLength: 5, color: '#ff0000', tickColor: '#ff0000' },
          border: { display: false }
        },
        rain: {
          type: 'linear', position: 'right', weight: 1, min: 0, max: 150, reverse: true,
          afterBuildTicks: s => { s.ticks = rainTicks.map(v => ({value: v})); },
          afterFit: s => { s.width = 77; },
          ticks: { color: '#1f77b4', padding: 3 },
          grid: { drawOnChartArea: false, tickLength: 5, color: '#1f77b4', tickColor: '#1f77b4' },
          border: { display: true, color: '#1f77b4', width: 1.3 }
        }
      }
    },
    plugins: [decor(o)]
  });
}

const common = { thr: 0.3, blackFlat: 2.6, blackSteep: 0.9, grayFlat: 2.6, graySteep: 0.8, pr: 1.4,
                 yMin: 5e-9, yMax: 1e-3, yTicks: yTicksAB, yLabel: powLabel, yTitle: 'PV [mm/s]', yTitleX: 35,
                 stripeFrac: 0.985, showDates: false };

buildPanel('pa', Object.assign({}, common, {
  padTop: 23, xHeight: 18, letter: '(a)', letterY: 27,
  black: pvA_black, gray: pvA_gray, outBlack: outA_black, outGray: outA_gray
}));
buildPanel('pb', Object.assign({}, common, {
  padTop: 21, xHeight: 19, letter: '(b)', letterY: 26,
  black: pvB_black, gray: pvB_gray, outBlack: outB_black, outGray: outB_gray
}));
buildPanel('pc', Object.assign({}, common, {
  padTop: 20, xHeight: 46, letter: '(c)', letterY: 24,
  yMin: 5, yMax: 40, yTicks: yTicksC, yLabel: v => String(v), yTitle: 'PVratio [wth u]', yTitleX: 52,
  thr: 0.08, blackFlat: 1.2, blackSteep: 1.0, grayFlat: 2.5, graySteep: 0.9, pr: 1.3,
  stripeFrac: 0.94, showDates: true,
  black: pvC_black, gray: pvC_gray, outBlack: outC_black, outGray: outC_gray
}));
</script>
</body>
</html>
